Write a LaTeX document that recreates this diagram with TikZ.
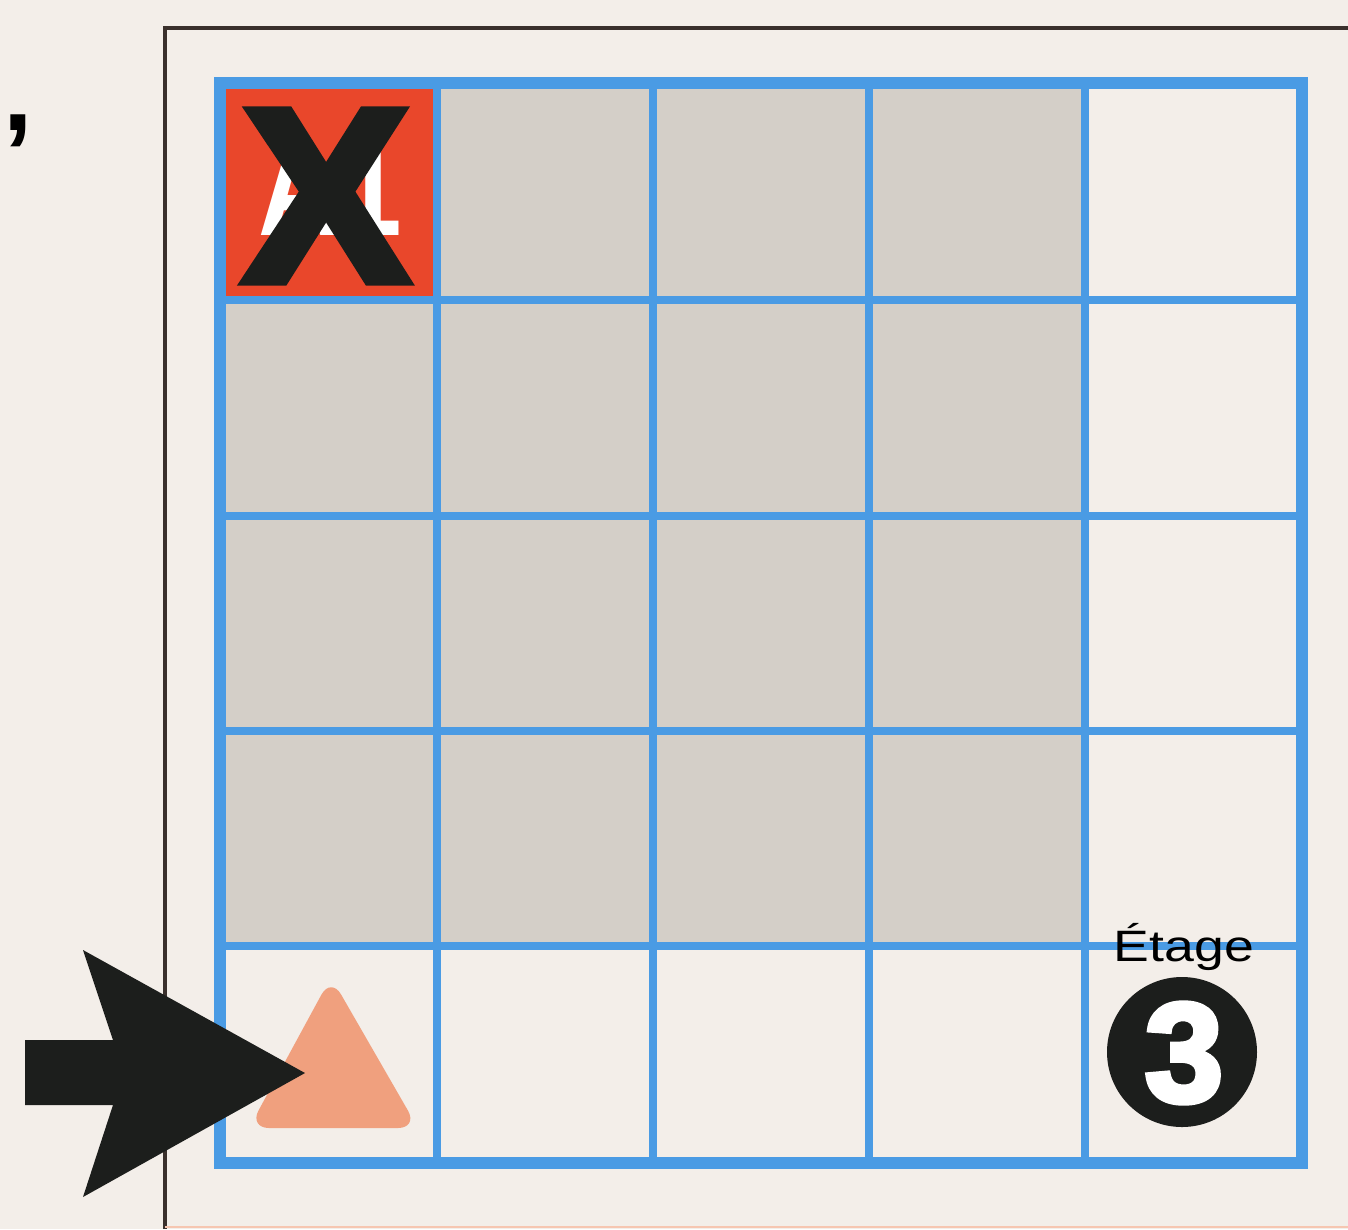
\documentclass[tikz,border=0pt]{standalone}
\usepackage{fontspec}
\setmainfont{Liberation Sans}
\newfontfamily\heavyfont{Liberation Sans Bold}[FakeBold=4]
\definecolor{paper}{HTML}{F3EEE9}
\definecolor{gridblue}{HTML}{4A9BE4}
\definecolor{cellgray}{HTML}{D4CFC8}
\definecolor{cellred}{HTML}{E9472B}
\definecolor{salmon}{HTML}{F0A07E}
\definecolor{inkblack}{HTML}{1C1E1C}
\definecolor{framebrown}{HTML}{3A302C}
\tikzset{
  gridline/.style={gridblue, line width=2.5pt},
  gridouter/.style={gridblue, line width=3.2pt},
  framestyle/.style={framebrown, line width=1.1pt},
}
\begin{document}
\begin{tikzpicture}[x=0.01cm,y=-0.01cm]
\useasboundingbox (0,0) rectangle (1348,1229);
\fill[paper] (0,0) rectangle (1348,1229);
% outer frame
\draw[framestyle] (165,1229) -- (165,28) -- (1348,28);
\draw[salmon!60, line width=0.4pt] (165,1227) -- (1348,1227);
% comma
\node[anchor=base, inner sep=0pt, font=\bfseries\fontsize{30}{30}\selectfont] (comma) at (18,130) {,};
% gray cells
\fill[cellgray] (220,83) rectangle (1085,946);
% red cell
\fill[cellred] (225,88) rectangle (433,296);
\node[white, inner sep=0pt, font=\bfseries\fontsize{40}{40}\selectfont, xscale=0.8] (a1) at (330,187) {A1};
\node[inkblack, inner sep=0pt, font=\heavyfont\fontsize{70}{70}\selectfont] (x) at (326,196) {X};
% grid lines
\foreach \gx in {437,653,869,1085} \draw[gridline] (\gx,83) -- (\gx,1163);
\foreach \gy in {300,516,731,946} \draw[gridline] (220,\gy) -- (1302,\gy);
\draw[gridouter] (220,83) rectangle (1302,1163);
% triangle
\fill[salmon, rounded corners=0.2cm] (331,977) -- (418,1128) -- (249,1128) -- cycle;
% arrow
\fill[inkblack] (25,1040) -- (113,1040) -- (83,950) -- (305,1073) -- (83,1197) -- (113,1105) -- (25,1105) -- cycle;
% Etage 3
\node[anchor=base, inner sep=0pt, xscale=1.22, font=\fontsize{12.5}{12.5}\selectfont] (etage) at (1184,961) {Étage};
\fill[inkblack] (1182,1052) circle (75);
\node[white, inner sep=0pt, font=\heavyfont\fontsize{40}{40}\selectfont] (three) at (1184,1053) {3};
\end{tikzpicture}
\end{document}
